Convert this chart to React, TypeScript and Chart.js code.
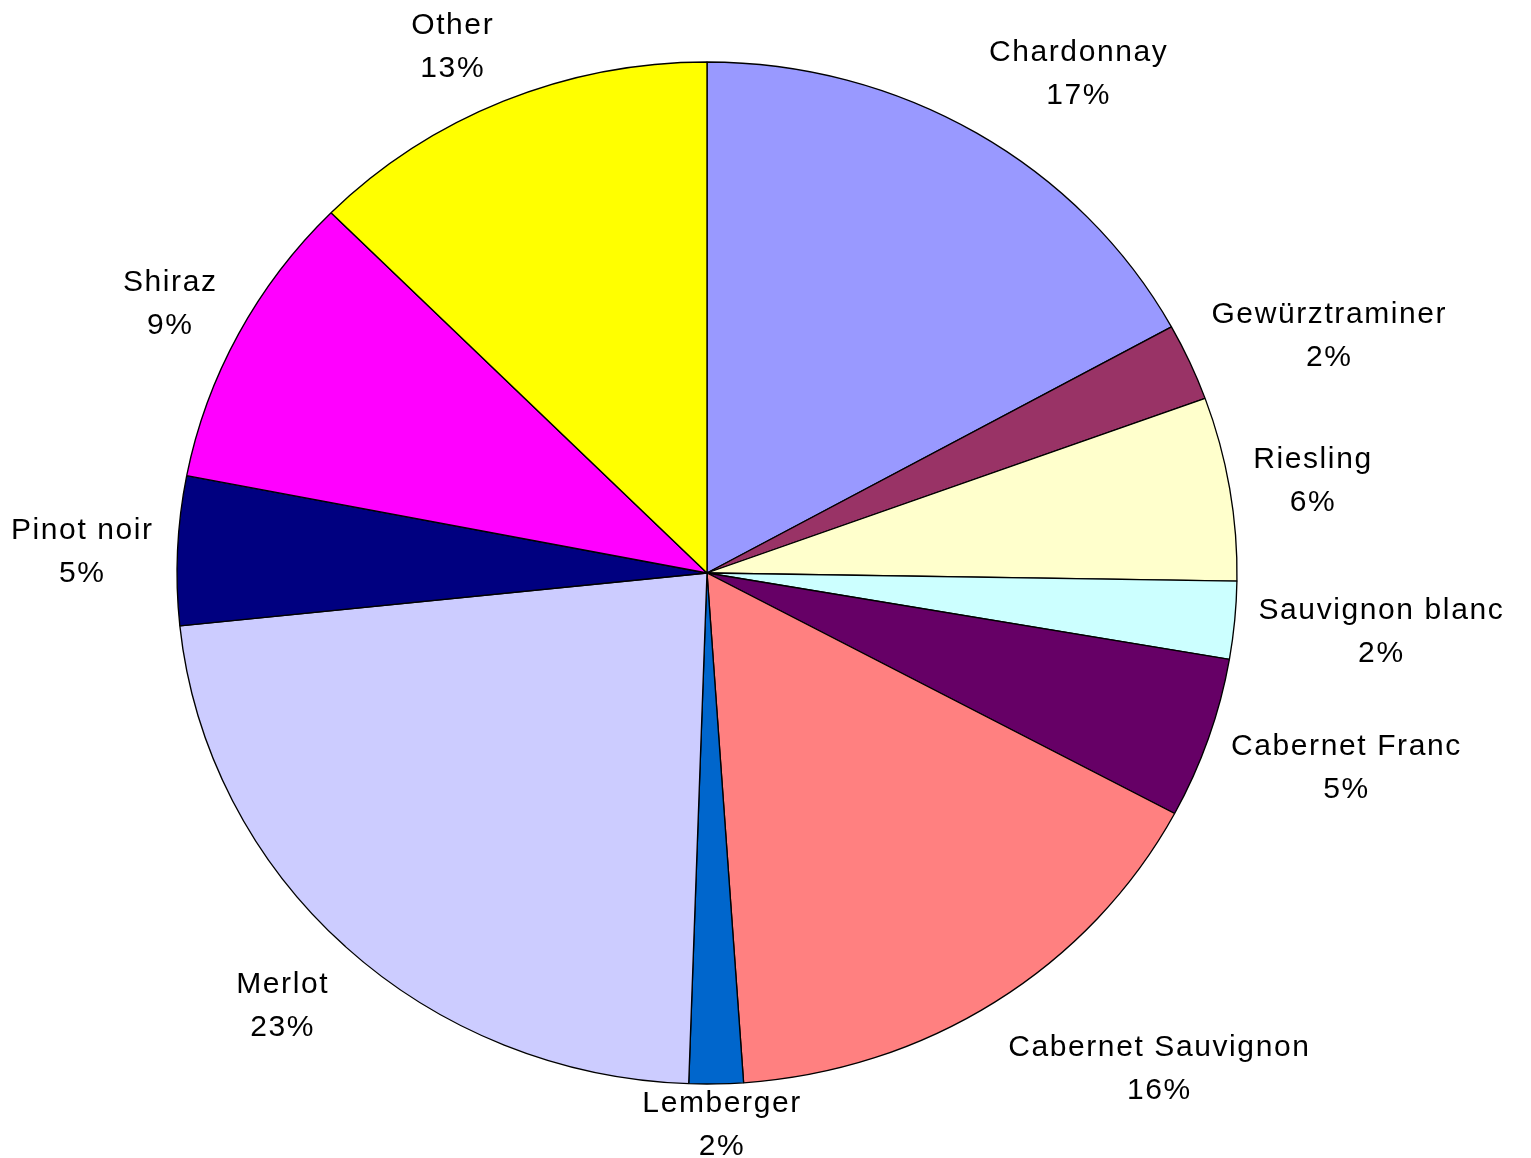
import React, { useEffect, useRef } from 'react';
import { Chart, registerables } from 'chart.js';

Chart.register(...registerables);

const categories = [
  'Chardonnay',
  'Gewürztraminer',
  'Riesling',
  'Sauvignon blanc',
  'Cabernet Franc',
  'Cabernet Sauvignon',
  'Lemberger',
  'Merlot',
  'Pinot noir',
  'Shiraz',
  'Other',
];
const shares = [17.0, 2.45, 5.8, 2.45, 5.1, 16.1, 1.65, 22.8, 4.7, 9.4, 12.55];
const sliceColors = [
  '#9999FF',
  '#993366',
  '#FFFFCC',
  '#CCFFFF',
  '#660066',
  '#FF8080',
  '#0066CC',
  '#CCCCFF',
  '#000080',
  '#FF00FF',
  '#FFFF00',
];

const WIDTH = 1531;
const HEIGHT = 1158;
const RADIUS = 511;
const STRETCH_X = 530 / 511;

const ellipsePlugin = {
  id: 'ellipse',
  beforeDatasetsDraw(chart: any) {
    const arc = chart.getDatasetMeta(0).data[0];
    const ctx = chart.ctx;
    ctx.save();
    ctx.translate(arc.x, arc.y);
    ctx.scale(STRETCH_X, 1);
    ctx.translate(-arc.x, -arc.y);
  },
  afterDatasetsDraw(chart: any) {
    chart.ctx.restore();
  },
};

const labelPlugin = {
  id: 'sliceLabels',
  afterDraw(chart: any) {
    const ctx = chart.ctx;
    const meta = chart.getDatasetMeta(0);
    const total = shares.reduce((a, b) => a + b, 0);
    ctx.save();
    ctx.font = '30px "Liberation Sans", Arial, sans-serif';
    ctx.fillStyle = '#000';
    ctx.textAlign = 'center';
    ctx.textBaseline = 'alphabetic';
    (ctx as any).letterSpacing = '1.6px';
    meta.data.forEach((arc: any, i: number) => {
      const { x, y, startAngle, endAngle, outerRadius } = arc.getProps(
        ['x', 'y', 'startAngle', 'endAngle', 'outerRadius'],
        true
      );
      const a = (startAngle + endAngle) / 2;
      const c = Math.cos(a);
      const s = Math.sin(a);
      const l1 = categories[i];
      const l2 = Math.round((shares[i] / total) * 100) + '%';
      const w = Math.max(ctx.measureText(l1).width, ctx.measureText(l2).width);
      const ax = x + outerRadius * STRETCH_X * 1.045 * c;
      const f = Math.max(-1, Math.min(1, c * 4));
      const tx = ax + (f * w) / 2;
      let ty = y + outerRadius * 1.146 * s + 3;
      ty = Math.max(45, Math.min(1123, ty));
      ctx.fillText(l1, tx, ty - 11);
      ctx.fillText(l2, tx, ty + 32);
    });
    ctx.restore();
  },
};

export default function App() {
  const ref = useRef<HTMLCanvasElement | null>(null);

  useEffect(() => {
    const canvas = ref.current;
    if (!canvas) return;
    const chart = new Chart(canvas, {
      type: 'pie',
      data: {
        labels: categories,
        datasets: [
          {
            data: shares,
            backgroundColor: sliceColors,
            borderColor: '#000000',
            borderWidth: 1.3,
          },
        ],
      },
      options: {
        responsive: false,
        animation: false,
        radius: RADIUS,
        layout: { padding: { left: 0, right: 117, top: 0, bottom: 12 } },
        plugins: {
          legend: { display: false },
          tooltip: { enabled: false },
        },
      } as any,
      plugins: [ellipsePlugin, labelPlugin],
    });
    return () => chart.destroy();
  }, []);

  return (
    <div style={{ position: 'absolute', left: 0, top: 0, width: WIDTH, height: HEIGHT, background: '#fff' }}>
      <canvas ref={ref} width={WIDTH} height={HEIGHT} style={{ display: 'block' }} />
    </div>
  );
}
